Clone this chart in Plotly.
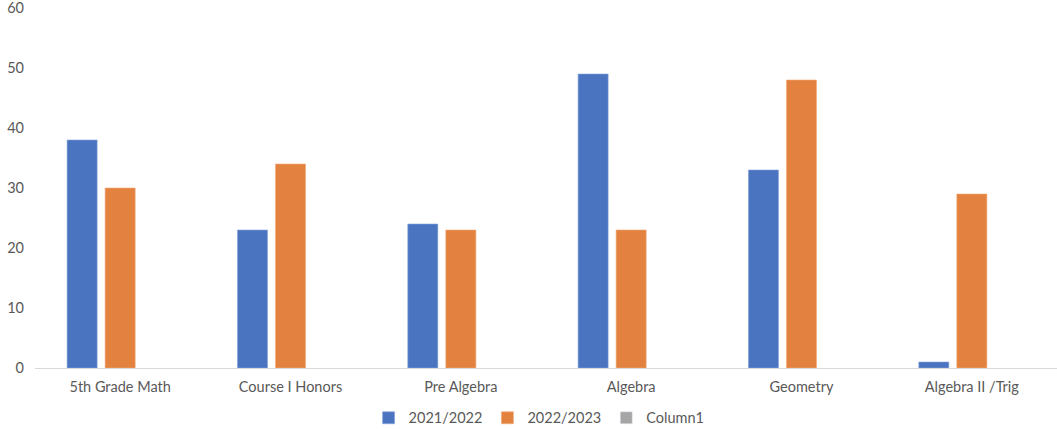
import plotly.graph_objects as go

categories = ["5th Grade Math", "Course I Honors", "Pre Algebra", "Algebra", "Geometry", "Algebra II /Trig"]
s2021 = [38, 23, 24, 49, 33, 1]
s2022 = [30, 34, 23, 23, 48, 29]
col1 = [None, None, None, None, None, None]
yticks = [0, 10, 20, 30, 40, 50, 60]

fig = go.Figure()
fig.add_trace(go.Bar(name="2021/2022", x=categories, y=s2021, marker_color="#4A73C0",
                     marker_line=dict(width=0.6, color="#8AA6DA")))
fig.add_trace(go.Bar(name="2022/2023", x=categories, y=s2022, marker_color="#E3823F",
                     marker_line=dict(width=0.6, color="#F0AA7A")))
fig.add_trace(go.Bar(name="Column1", x=categories, y=col1, marker_color="#A5A5A5"))

fig.update_layout(
    width=1057, height=429,
    margin=dict(l=35, r=0, t=8, b=61),
    paper_bgcolor="white", plot_bgcolor="white",
    barmode="group", bargap=0.33, bargroupgap=0.21,
    font=dict(family="Lato, 'Noto Sans', sans-serif", size=14.5, color="#595959"),
    legend=dict(orientation="h", x=0.51, xanchor="center", xref="container",
                y=0.026, yanchor="middle", yref="container",
                font=dict(size=14.5, color="#595959"), itemwidth=30,
                traceorder="normal"),
    showlegend=True,
)
fig.update_xaxes(showline=True, linecolor="#D9D9D9", linewidth=1, ticks="", showgrid=False,
                 automargin=False, ticklabelstandoff=6,
                 tickfont=dict(size=14.5, color="#595959"))
fig.update_yaxes(range=[0, 60], tickvals=yticks, showgrid=False, zeroline=False, showline=False,
                 automargin=False, ticklabeloverflow="allow", ticklabelstandoff=10,
                 ticks="", tickfont=dict(size=14.5, color="#595959"))

fig.write_html("out.html", config={"displayModeBar": False},
               post_script="document.body.style.margin='0';document.body.style.padding='0';")
